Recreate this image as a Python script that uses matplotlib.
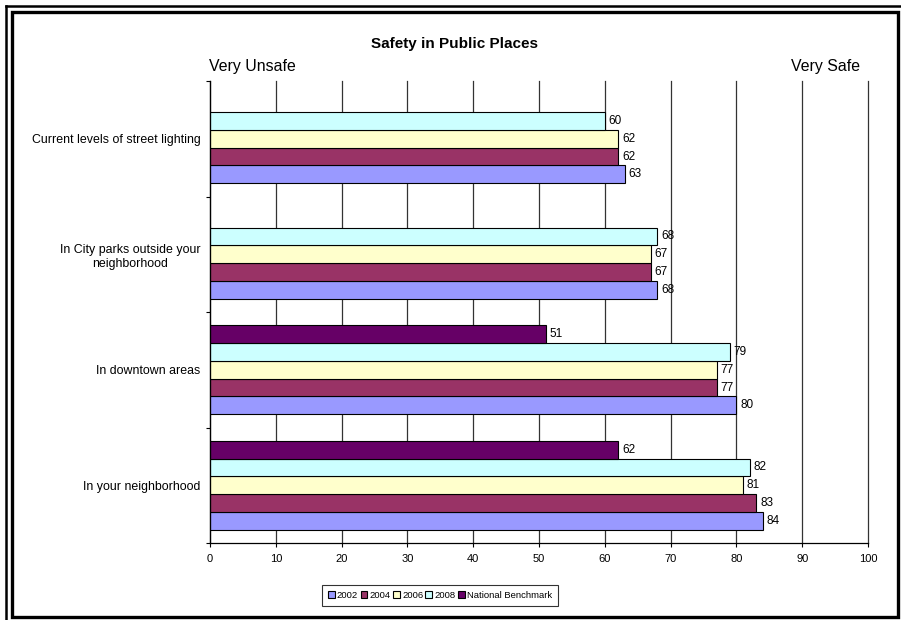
import matplotlib.pyplot as plt
from matplotlib.patches import Rectangle
from matplotlib.lines import Line2D

plt.rcParams['font.family'] = ['Liberation Sans', 'DejaVu Sans']

# categories listed top to bottom as they appear
categories = ["Current levels of street lighting",
              "In City parks outside your\nneighborhood",
              "In downtown areas",
              "In your neighborhood"]
series = ["2002", "2004", "2006", "2008", "National Benchmark"]
colors = ["#9999FF", "#993366", "#FFFFCC", "#CCFFFF", "#660066"]

v2002 = [63, 68, 80, 84]
v2004 = [62, 67, 77, 83]
v2006 = [62, 67, 77, 81]
v2008 = [60, 68, 79, 82]
bench = [None, None, 51, 62]
values = [v2002, v2004, v2006, v2008, bench]

xticks = list(range(0, 101, 10))

W, H = 901, 620
fig = plt.figure(figsize=(W / 100, H / 100), dpi=100)
ax = fig.add_axes([210 / W, 1 - 543 / H, (868 - 210) / W, (543 - 81) / H])

n = len(categories)
bh = 0.154
for j, (name, vals, c) in enumerate(zip(series, values, colors)):
    for i, v in enumerate(vals):
        if v is None:
            continue
        y = (n - 1 - i) + (j - 2) * bh
        ax.barh(y, v, height=bh, color=c, edgecolor='black', linewidth=0.8,
                label=name if i == 2 else None, zorder=3)
        ax.text(v + 0.6, y, str(v), ha='left', va='center', fontsize=8.5)

ax.set_xlim(0, 100)
ax.set_ylim(-0.5, n - 0.5)
ax.set_xticks(xticks)
ax.set_xticklabels([str(t) for t in xticks], fontsize=8)
ax.tick_params(axis='x', direction='out', length=3, width=0.8, pad=5)
ax.set_yticks([k - 0.5 for k in range(n + 1)])
ax.set_yticklabels([])
ax.tick_params(axis='y', which='major', direction='out', length=3, width=0.8)
ax.set_yticks(range(n), minor=True)
ax.set_yticklabels(categories[::-1], minor=True, fontsize=8.9)
ax.tick_params(axis='y', which='minor', length=0, pad=7)
for t in ax.get_yticklabels(minor=True):
    t.set_multialignment('center')

ax.grid(axis='x', color='#333333', linewidth=0.9, zorder=0)
ax.set_axisbelow(True)
for line in ax.get_xgridlines():
    line.set_clip_on(False)
for s in ['top', 'right']:
    ax.spines[s].set_visible(False)
for s in ['left', 'bottom']:
    ax.spines[s].set_linewidth(0.9)
    ax.spines[s].set_zorder(4)

fig.text(455 / W, 1 - 44 / H, "Safety in Public Places", ha='center', va='center',
         fontsize=11, fontweight='bold')
fig.text(209 / W, 1 - 66 / H, "Very Unsafe", ha='left', va='center', fontsize=11.4)
fig.text(860 / W, 1 - 66 / H, "Very Safe", ha='right', va='center', fontsize=11.4)

handles, labels = ax.get_legend_handles_labels()
order = [labels.index(s) for s in series]
leg = fig.legend([handles[k] for k in order], [labels[k] for k in order],
                 loc='center', bbox_to_anchor=(440 / W, 1 - 595.5 / H), ncol=5,
                 fontsize=6.8, frameon=True, fancybox=False, edgecolor='black',
                 handlelength=0.7, handleheight=0.7, handletextpad=0.25,
                 columnspacing=0.25, borderpad=0.6, borderaxespad=0)
leg.get_frame().set_linewidth(0.8)

# double border around the chart
fig.add_artist(Line2D([6 / W, 6 / W], [0, 1 - 6 / H], color='black', linewidth=1.8))
fig.add_artist(Line2D([6 / W, 1], [1 - 6 / H, 1 - 6 / H], color='black', linewidth=1.8))
fig.add_artist(Rectangle((12 / W, 1 - 617 / H), (898 - 12) / W, (617 - 12) / H,
                         fill=False, edgecolor='black', linewidth=2.4))

fig.savefig("out.png", dpi=100)
